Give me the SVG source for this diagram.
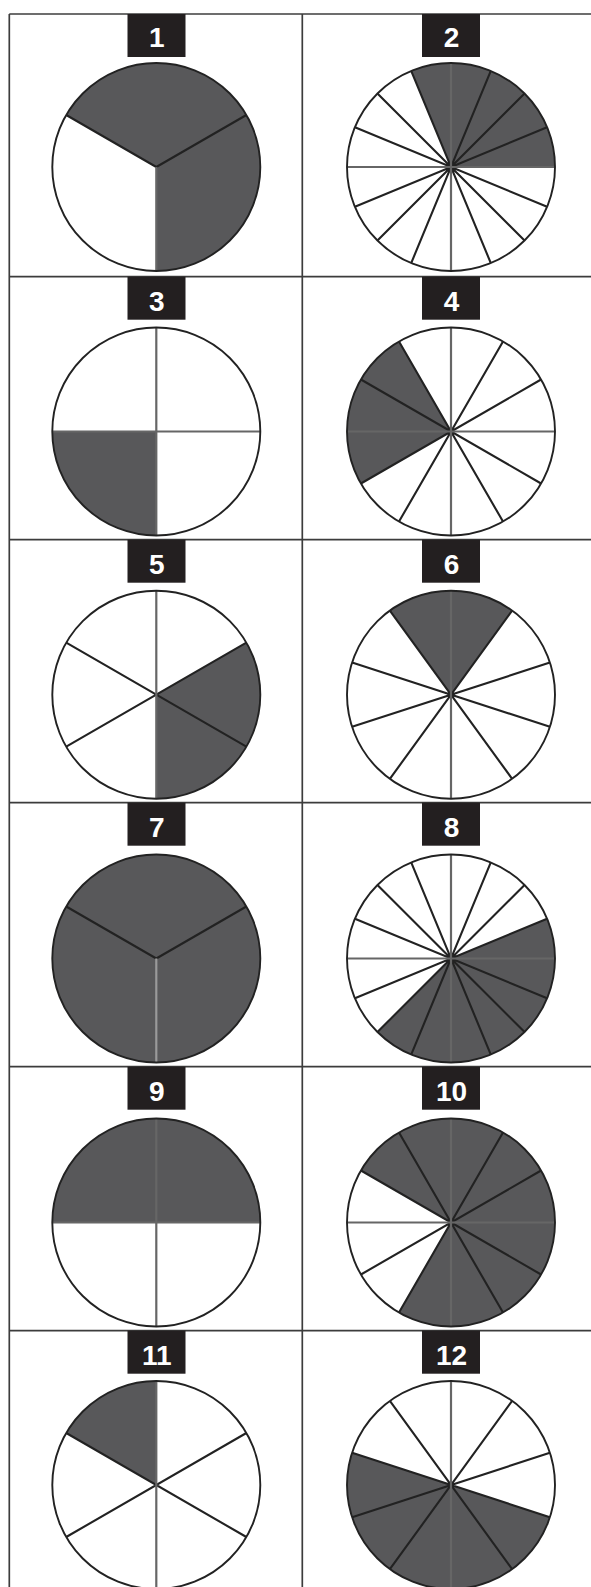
<svg xmlns="http://www.w3.org/2000/svg" width="591" height="1587" viewBox="0 0 591 1587">
<style>
.bg{fill:#ffffff}
.grid line{stroke:#3c3c3c;stroke-width:1.7}
.box{fill:#231f20}
.num{fill:#ffffff;font-family:"Liberation Sans",Arial,sans-serif;font-weight:bold;font-size:28px;text-anchor:middle}
.disc{fill:#ffffff}
.full{fill:#58585a}
.shade{fill:#58585a}
.ray{stroke:#222222;stroke-width:2.1;fill:none}
.axis{stroke:#666666;stroke-width:2.2;fill:none}
.rim{fill:none;stroke:#222222;stroke-width:1.9}
</style>
<rect class="bg" x="0" y="0" width="591" height="1587"/>
<g id="grid" class="grid">
<line x1="9.3" y1="14" x2="591" y2="14"/>
<line x1="9.3" y1="276.7" x2="591" y2="276.7"/>
<line x1="9.3" y1="539.7" x2="591" y2="539.7"/>
<line x1="9.3" y1="802.7" x2="591" y2="802.7"/>
<line x1="9.3" y1="1066.7" x2="591" y2="1066.7"/>
<line x1="9.3" y1="1330.7" x2="591" y2="1330.7"/>
<line x1="9.3" y1="14" x2="9.3" y2="1587"/>
<line x1="302.3" y1="14" x2="302.3" y2="1587"/>
</g>

<g id="panel-1">
<rect class="box" x="127.5" y="14" width="58" height="43"/>
<text class="num" x="156.8" y="47">1</text>
<g transform="translate(156.3,167)">
<circle class="disc" r="104"/>
<path class="shade" d="M0,0 L0,104 A104,104 0 1 0 -90.07,-52 Z"/>
<path class="ray" d="M0,0 L90.07,-52 M0,0 L-90.07,-52"/>
<path class="axis" d="M0,0 L0,104"/>
<circle class="rim" r="104"/>
</g>
</g>

<g id="panel-2">
<rect class="box" x="422" y="14" width="58" height="43"/>
<text class="num" x="451.5" y="47">2</text>
<g transform="translate(451,167)">
<circle class="disc" r="104"/>
<path class="shade" d="M0,0 L104,0 A104,104 0 0 0 -39.8,-96.08 Z"/>
<path class="ray" d="M96.08,-39.8 L-96.08,39.8 M73.54,-73.54 L-73.54,73.54 M39.8,-96.08 L-39.8,96.08 M-39.8,-96.08 L39.8,96.08 M-73.54,-73.54 L73.54,73.54 M-96.08,-39.8 L96.08,39.8"/>
<path class="axis" d="M-104,0 L104,0 M0,-104 L0,104"/>
<circle class="rim" r="104"/>
</g>
</g>

<g id="panel-3">
<rect class="box" x="127.5" y="276.7" width="58" height="43"/>
<text class="num" x="156.8" y="310.5">3</text>
<g transform="translate(156.3,431.5)">
<circle class="disc" r="104"/>
<path class="shade" d="M0,0 L-104,0 A104,104 0 0 0 0,104 Z"/>
<path class="axis" d="M-104,0 L104,0 M0,-104 L0,104"/>
<circle class="rim" r="104"/>
</g>
</g>

<g id="panel-4">
<rect class="box" x="422" y="276.7" width="58" height="43"/>
<text class="num" x="451.5" y="310.5">4</text>
<g transform="translate(451,431.5)">
<circle class="disc" r="104"/>
<path class="shade" d="M0,0 L-52,-90.07 A104,104 0 0 0 -90.07,52 Z"/>
<path class="ray" d="M90.07,-52 L-90.07,52 M52,-90.07 L-52,90.07 M-52,-90.07 L52,90.07 M-90.07,-52 L90.07,52"/>
<path class="axis" d="M-104,0 L104,0 M0,-104 L0,104"/>
<circle class="rim" r="104"/>
</g>
</g>

<g id="panel-5">
<rect class="box" x="127.5" y="539.7" width="58" height="43"/>
<text class="num" x="156.8" y="573.5">5</text>
<g transform="translate(156.3,694.7)">
<circle class="disc" r="104"/>
<path class="shade" d="M0,0 L0,104 A104,104 0 0 0 90.07,-52 Z"/>
<path class="ray" d="M90.07,-52 L-90.07,52 M-90.07,-52 L90.07,52"/>
<path class="axis" d="M0,-104 L0,104"/>
<circle class="rim" r="104"/>
</g>
</g>

<g id="panel-6">
<rect class="box" x="422" y="539.7" width="58" height="43"/>
<text class="num" x="451.5" y="573.5">6</text>
<g transform="translate(451,694.7)">
<circle class="disc" r="104"/>
<path class="shade" d="M0,0 L61.13,-84.14 A104,104 0 0 0 -61.13,-84.14 Z"/>
<path class="ray" d="M98.91,-32.14 L-98.91,32.14 M61.13,-84.14 L-61.13,84.14 M-61.13,-84.14 L61.13,84.14 M-98.91,-32.14 L98.91,32.14"/>
<path class="axis" d="M0,-104 L0,104"/>
<circle class="rim" r="104"/>
</g>
</g>

<g id="panel-7">
<rect class="box" x="127.5" y="802.7" width="58" height="43"/>
<text class="num" x="156.8" y="836.5">7</text>
<g transform="translate(156.3,958.5)">
<circle class="full" r="104"/>
<path class="ray" d="M0,0 L90.07,-52 M0,0 L-90.07,-52"/>
<path class="axis" d="M0,0 L0,104" style="stroke:#9a9a9a"/>
<circle class="rim" r="104"/>
</g>
</g>

<g id="panel-8">
<rect class="box" x="422" y="802.7" width="58" height="43"/>
<text class="num" x="451.5" y="836.5">8</text>
<g transform="translate(451,958.5)">
<circle class="disc" r="104"/>
<path class="shade" d="M0,0 L-73.54,73.54 A104,104 0 0 0 96.08,-39.8 Z"/>
<path class="ray" d="M96.08,-39.8 L-96.08,39.8 M73.54,-73.54 L-73.54,73.54 M39.8,-96.08 L-39.8,96.08 M-39.8,-96.08 L39.8,96.08 M-73.54,-73.54 L73.54,73.54 M-96.08,-39.8 L96.08,39.8"/>
<path class="axis" d="M-104,0 L104,0 M0,-104 L0,104"/>
<circle class="rim" r="104"/>
</g>
</g>

<g id="panel-9">
<rect class="box" x="127.5" y="1066.7" width="58" height="43"/>
<text class="num" x="156.8" y="1100.5">9</text>
<g transform="translate(156.3,1222.5)">
<circle class="disc" r="104"/>
<path class="shade" d="M104,0 A104,104 0 0 0 -104,0 Z"/>
<path class="axis" d="M-104,0 L104,0 M0,-104 L0,104"/>
<circle class="rim" r="104"/>
</g>
</g>

<g id="panel-10">
<rect class="box" x="422" y="1066.7" width="58" height="43"/>
<text class="num" x="451.5" y="1100.5">10</text>
<g transform="translate(451,1222.5)">
<circle class="disc" r="104"/>
<path class="shade" d="M0,0 L-52,90.07 A104,104 0 1 0 -90.07,-52 Z"/>
<path class="ray" d="M90.07,-52 L-90.07,52 M52,-90.07 L-52,90.07 M-52,-90.07 L52,90.07 M-90.07,-52 L90.07,52"/>
<path class="axis" d="M-104,0 L104,0 M0,-104 L0,104"/>
<circle class="rim" r="104"/>
</g>
</g>

<g id="panel-11">
<rect class="box" x="127.5" y="1330.7" width="58" height="43"/>
<text class="num" x="156.8" y="1364.5">11</text>
<g transform="translate(156.3,1485)">
<circle class="disc" r="104"/>
<path class="shade" d="M0,0 L0,-104 A104,104 0 0 0 -90.07,-52 Z"/>
<path class="ray" d="M90.07,-52 L-90.07,52 M-90.07,-52 L90.07,52"/>
<path class="axis" d="M0,-104 L0,104"/>
<circle class="rim" r="104"/>
</g>
</g>

<g id="panel-12">
<rect class="box" x="422" y="1330.7" width="58" height="43"/>
<text class="num" x="451.5" y="1364.5">12</text>
<g transform="translate(451,1485)">
<circle class="disc" r="104"/>
<path class="shade" d="M-98.91,-32.14 A104,104 0 0 0 98.91,32.14 Z"/>
<path class="ray" d="M98.91,-32.14 L-98.91,32.14 M61.13,-84.14 L-61.13,84.14 M-61.13,-84.14 L61.13,84.14 M-98.91,-32.14 L98.91,32.14"/>
<path class="axis" d="M0,-104 L0,104"/>
<circle class="rim" r="104"/>
</g>
</g>
</svg>
